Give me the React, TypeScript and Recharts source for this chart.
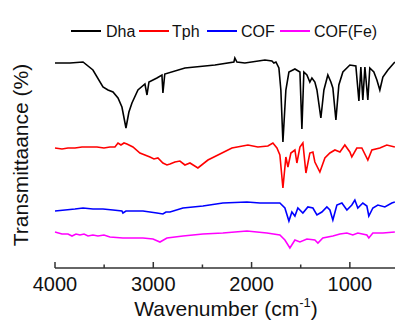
import React from "react";
import { LineChart, Line, XAxis, YAxis, Legend } from "recharts";

// Wavenumber (cm-1) and transmittance (a.u.)
const dhaWave = [4000,3847,3715,3614,3512,3461,3410,3359,3319,3278,3248,3217,3156,3085,3064,3044,2963,2912,2902,2883,2678,2373,2180,2170,2149,2068,1864,1793,1773,1752,1722,1702,1681,1651,1620,1559,1508,1488,1468,1437,1407,1386,1356,1335,1295,1264,1224,1193,1173,1142,1112,1071,1000,939,908,888,868,847,817,797,756,725,695,664,613,542];
const dhaT = [205,205,206,198,181,178,176,170,161,140,156,165,178,184,173,186,190,193,175,194,200,203,206,210,206,205,208,207,205,206,200,178,126,178,196,199,196,139,196,193,186,190,186,178,150,178,193,186,180,148,183,196,203,202,167,201,168,201,168,200,196,188,178,191,198,206];

const tphWave = [4000,3929,3868,3797,3725,3644,3573,3502,3441,3390,3359,3329,3298,3268,3207,3136,3034,2993,2953,2902,2861,2830,2780,2729,2678,2627,2546,2444,2342,2200,2037,1936,1834,1783,1742,1712,1681,1651,1630,1600,1559,1539,1508,1478,1447,1407,1376,1356,1305,1254,1203,1152,1101,1051,1000,980,929,878,817,776,695,624,542];
const tphT = [120,119,120,120,121,121,121,120,121,121,125,123,125,124,121,115,111,109,110,105,103,104,106,107,103,105,100,108,113,120,123,121,122,125,120,113,80,111,101,115,118,105,121,125,95,115,116,106,96,110,115,118,116,123,116,111,120,120,108,118,120,123,121];

const cofWave = [4000,3898,3797,3715,3614,3512,3410,3319,3309,3278,3105,2963,2902,2871,2830,2698,2495,2292,2047,1915,1712,1661,1620,1590,1559,1529,1478,1427,1376,1335,1285,1234,1203,1173,1132,1081,1030,980,949,919,868,827,807,766,715,644,573,542];
const cofT = [57,58,59,60,59,59,58,57,55,57,57,55,54,56,56,60,62,65,66,65,65,60,47,56,52,60,55,61,60,53,56,61,58,48,63,65,58,63,68,60,65,62,52,60,63,61,65,66];

const cofFeWave = [4000,3929,3868,3827,3786,3746,3705,3664,3614,3563,3502,3441,3309,3105,3003,2932,2861,2698,2495,2292,2047,1844,1712,1661,1610,1559,1508,1437,1356,1325,1275,1173,1101,1030,970,919,827,807,766,664,542];
const cofFeT = [36,34,34,32,34,33,34,32,33,32,33,31,30,30,29,26,30,32,34,35,37,35,33,28,20,28,26,29,28,25,30,32,34,35,33,35,33,30,35,35,36];

const seriesNames = ["Dha", "Tph", "COF", "COF(Fe)"];
const seriesColors = ["#000000", "#ff0000", "#0000ff", "#ff00ff"];
const xTicks = [4000, 3500, 3000, 2500, 2000, 1500, 1000, 500];

const toData = (w: number[], t: number[]) => w.map((x, i) => ({ w: x, t: t[i] }));
const seriesData = [
  toData(dhaWave, dhaT),
  toData(tphWave, tphT),
  toData(cofWave, cofT),
  toData(cofFeWave, cofFeT),
];

const FONT = "'Liberation Sans', Arial, sans-serif";
const FRAME = "#333333";

const Tick = (props: any) => {
  const { x, y, payload } = props;
  const major = payload.value % 1000 === 0;
  return (
    <g>
      <line x1={x} x2={x} y1={y} y2={y - (major ? 6 : 3.5)} stroke={FRAME} strokeWidth={1.5} />
      {major && (
        <text x={x} y={y + 23} textAnchor="middle" fontSize={20} fontFamily={FONT} fill="#111">
          {payload.value}
        </text>
      )}
    </g>
  );
};

const legendPos = [
  { lx: 71, tx: 106 },
  { lx: 139, tx: 172 },
  { lx: 207, tx: 241 },
  { lx: 280, tx: 314 },
];

const LegendContent = () => (
  <svg width={395} height={50} style={{ display: "block" }}>
    {seriesNames.map((n, i) => (
      <g key={n}>
        <line x1={legendPos[i].lx} x2={legendPos[i].lx + 30} y1={31} y2={31} stroke={seriesColors[i]} strokeWidth={2} />
        <text x={legendPos[i].tx} y={37} fontSize={16} fontFamily={FONT} fill="#111">{n}</text>
      </g>
    ))}
  </svg>
);

export default function App() {
  return (
    <div style={{ position: "absolute", left: 0, top: 0, width: 395, height: 323, overflow: "hidden", background: "#fff" }}>
      <LineChart width={402} height={323} margin={{ top: 14, right: 3, bottom: 0, left: 55 }}>
        <XAxis
          dataKey="w"
          type="number"
          domain={[500, 4000]}
          reversed
          ticks={xTicks}
          allowDuplicatedCategory={false}
          height={55}
          tickSize={0}
          tickMargin={0}
          tick={<Tick />}
          axisLine={{ stroke: FRAME, strokeWidth: 1.5 }}
          tickLine={false}
          interval={0}
        />
        <XAxis
          xAxisId="top"
          orientation="top"
          dataKey="w"
          type="number"
          domain={[500, 4000]}
          reversed
          height={0}
          tick={false}
          tickLine={false}
          axisLine={{ stroke: FRAME, strokeWidth: 1.5 }}
        />
        <YAxis
          type="number"
          domain={[0, 254]}
          width={0}
          tick={false}
          tickLine={false}
          axisLine={{ stroke: FRAME, strokeWidth: 1.5 }}
        />
        <Legend
          layout="horizontal"
          verticalAlign="middle"
          align="center"
          wrapperStyle={{ top: 0, left: 0, width: 395, height: 50 }}
          content={<LegendContent />}
        />
        {seriesData.map((d, i) => (
          <Line
            key={seriesNames[i]}
            data={d}
            dataKey="t"
            name={seriesNames[i]}
            stroke={seriesColors[i]}
            strokeWidth={1.6}
            dot={false}
            activeDot={false}
            type="linear"
            isAnimationActive={false}
          />
        ))}
        <text
          x={28}
          y={155}
          transform="rotate(-90, 28, 155)"
          textAnchor="middle"
          fontSize={21}
          fontFamily={FONT}
          fill="#111"
        >
          Transmittaance (%)
        </text>
        <text x={226} y={316} textAnchor="middle" fontSize={21} fontFamily={FONT} fill="#111">
          Wavenumber (cm<tspan fontSize={13} dy={-9}>-1</tspan><tspan dy={9}>)</tspan>
        </text>
      </LineChart>
    </div>
  );
}
